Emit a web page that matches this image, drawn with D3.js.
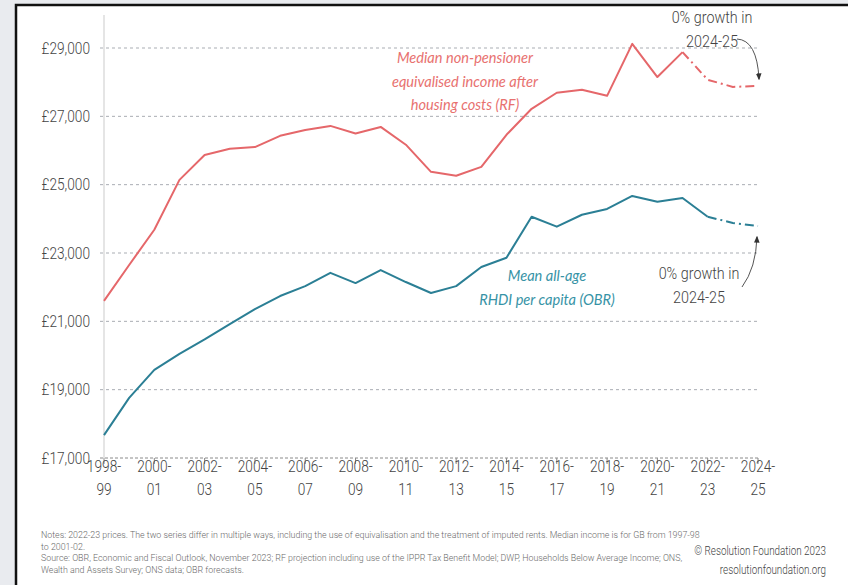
<!DOCTYPE html>
<html>
<head>
<meta charset="utf-8">
<script src="https://cdn.jsdelivr.net/npm/d3@7"></script>
<style>
  html, body { margin: 0; padding: 0; background: #e9ebef; }
  svg { display: block; }
  .narrow { font-family: Roboto, "Liberation Sans", sans-serif; font-weight: 300; }
</style>
</head>
<body>
<div id="chart"></div>
<script>
// income series, 2022-23 prices, one value per financial year
const years = ["1998-99","1999-00","2000-01","2001-02","2002-03","2003-04","2004-05","2005-06",
  "2006-07","2007-08","2008-09","2009-10","2010-11","2011-12","2012-13","2013-14","2014-15",
  "2015-16","2016-17","2017-18","2018-19","2019-20","2020-21","2021-22","2022-23","2023-24","2024-25"]

const medianIncome = [21600,22650,23680,25140,25870,26050,26100,26430,26600,26720,26500,26690,
  26170,25375,25260,25520,26460,27220,27690,27780,27600,29120,28150,28880,28070,27860,27890]

const meanRHDI = [17670,18760,19580,20050,20470,20920,21360,21740,22030,22420,22120,22500,
  22150,21830,22030,22590,22860,24060,23770,24120,24290,24670,24500,24610,24060,23880,23790]

// last year of actual data for each series (projection after that)
const medianLastActual = "2021-22"
const rhdiLastActual   = "2022-23"

const yTicks = [17000,19000,21000,23000,25000,27000,29000]
const xTickYears = years.filter((d,i) => i % 2 === 0)

const W = 848, H = 585
const redCol  = "#e5676a"
const blueCol = "#2b7f95"
const SX = 0.83   // horizontal squeeze to mimic the condensed house font

const svg = d3.select("#chart").append("svg")
  .attr("width", W).attr("height", H)

// frame: grey page, white panel with dark top/left edge
svg.append("rect").attr("width", W).attr("height", H).attr("fill", "#e9ebef")
svg.append("rect").attr("x", 16).attr("y", 5).attr("width", W - 16).attr("height", H - 5).attr("fill", "#fff")
svg.append("path").attr("d", `M16,${H} V5 H${W}`).attr("fill", "none").attr("stroke", "#111").attr("stroke-width", 2.5)

const x = d3.scalePoint().domain(years).range([104, 758])
const y = d3.scaleLinear().domain([17000, 29000]).range([458, 48])

const fmt = d => "£" + d3.format(",")(d)

// squeezed text helper: returns a text element positioned at (px,py)
function sqText(parent, px, py, sx) {
  return parent.append("text").attr("class", "narrow")
    .attr("transform", `translate(${px},${py}) scale(${sx},1)`)
}

// gridlines
svg.append("g").selectAll("line")
  .data(yTicks.slice(1)).join("line")
  .attr("x1", 100).attr("x2", 758)
  .attr("y1", d => y(d)).attr("y2", d => y(d))
  .attr("stroke", "#a9adb3").attr("stroke-width", 1).attr("stroke-dasharray", "3,3")

// vertical axis line
svg.append("line")
  .attr("x1", 104).attr("x2", 104).attr("y1", 15).attr("y2", y(17000))
  .attr("stroke", "#dcdcdc").attr("stroke-width", 1.5)

// y tick labels
const yg = svg.append("g")
yTicks.forEach(d => {
  sqText(yg, 90, y(d) + 5.5, SX)
    .attr("text-anchor", "end")
    .style("font-size", "16.5px").style("fill", "#444")
    .text(fmt(d))
})

// bottom axis (dashed) + ticks
svg.append("line")
  .attr("x1", 100).attr("x2", 758).attr("y1", y(17000)).attr("y2", y(17000))
  .attr("stroke", "#8a8a8a").attr("stroke-width", 1).attr("stroke-dasharray", "3,2")

const xg = svg.append("g")
xg.selectAll("line")
  .data(xTickYears).join("line")
  .attr("x1", d => x(d)).attr("x2", d => x(d))
  .attr("y1", y(17000)).attr("y2", y(17000) + 6)
  .attr("stroke", "#8a8a8a")

xTickYears.forEach(d => {
  const t = sqText(xg, x(d), 0, SX)
    .attr("text-anchor", "middle")
    .style("font-size", "16.5px").style("fill", "#444")
  t.append("tspan").attr("x", 0).attr("y", 472).text(d.split("-")[0] + "-")
  t.append("tspan").attr("x", 0).attr("y", 495).text(d.split("-")[1])
})

// lines: solid for actual, dash-dot for projection
const line = d3.line().x(d => x(d.year)).y(d => y(d.v))

function drawSeries(vals, lastActual, col) {
  const pts = years.map((yr, i) => ({ year: yr, v: vals[i] }))
  const cut = years.indexOf(lastActual)
  svg.append("path").datum(pts.slice(0, cut + 1))
    .attr("d", line).attr("fill", "none")
    .attr("stroke", col).attr("stroke-width", 2).attr("stroke-linejoin", "round")
  svg.append("path").datum(pts.slice(cut))
    .attr("d", line).attr("fill", "none")
    .attr("stroke", col).attr("stroke-width", 2)
    .attr("stroke-dasharray", "9,4,2,4")
}
drawSeries(medianIncome, medianLastActual, redCol)
drawSeries(meanRHDI, rhdiLastActual, blueCol)

// series labels
const redLab = svg.append("text")
  .style("font-family", "Lato, sans-serif").style("font-style", "italic")
  .style("font-size", "14.6px").style("fill", "#e8716f")
  .attr("text-anchor", "middle")
;["Median non-pensioner", "equivalised income after", "housing costs (RF)"].forEach((t, i) => {
  redLab.append("tspan").attr("x", 465).attr("y", 63 + i * 23.5).text(t)
})

const blueLab = svg.append("text")
  .style("font-family", "Lato, sans-serif").style("font-style", "italic")
  .style("font-size", "14.6px").style("fill", "#3793a6")
  .attr("text-anchor", "middle")
;["Mean all-age", "RHDI per capita (OBR)"].forEach((t, i) => {
  blueLab.append("tspan").attr("x", 547).attr("y", 281 + i * 24).text(t)
})

// growth annotations with curved arrows
svg.append("defs").append("marker")
  .attr("id", "arr").attr("viewBox", "0 0 10 10")
  .attr("refX", 8).attr("refY", 5)
  .attr("markerWidth", 7).attr("markerHeight", 7)
  .attr("orient", "auto-start-reverse")
  .append("path").attr("d", "M0,1 L10,5 L0,9 Z").attr("fill", "#333")

function note(cx, y0, lines) {
  const t = sqText(svg, cx, 0, 0.87)
    .attr("text-anchor", "middle")
    .style("font-size", "16.5px").style("fill", "#444")
  lines.forEach((s, i) => t.append("tspan").attr("x", 0).attr("y", y0 + i * 24).text(s))
}
note(712, 23, ["0% growth in", "2024-25"])
note(699, 279, ["0% growth in", "2024-25"])

svg.append("path")
  .attr("d", "M737,39 Q757,40 759,79")
  .attr("fill", "none").attr("stroke", "#555").attr("stroke-width", 1)
  .attr("marker-end", "url(#arr)")
svg.append("path")
  .attr("d", "M742,287 Q756,268 757,237")
  .attr("fill", "none").attr("stroke", "#555").attr("stroke-width", 1)
  .attr("marker-end", "url(#arr)")

// footer
const notes = [
  "Notes: 2022-23 prices. The two series differ in multiple ways, including the use of equivalisation and the treatment of imputed rents. Median income is for GB from 1997-98",
  "to 2001-02.",
  "Source: OBR, Economic and Fiscal Outlook, November 2023; RF projection including use of the IPPR Tax Benefit Model; DWP, Households Below Average Income; ONS,",
  "Wealth and Assets Survey; ONS data; OBR forecasts."
]
const fg = svg.append("g")
notes.forEach((d, i) => {
  sqText(fg, 41, 538 + i * 11.7, 0.905)
    .style("font-size", "9.8px").style("fill", "#6a6a6a")
    .text(d)
})

const credit = ["© Resolution Foundation 2023", "resolutionfoundation.org"]
credit.forEach((d, i) => {
  sqText(fg, 826, 555 + i * 19, 0.79)
    .attr("text-anchor", "end")
    .style("font-size", "12.5px").style("fill", "#444")
    .text(d)
})
</script>
</body>
</html>
